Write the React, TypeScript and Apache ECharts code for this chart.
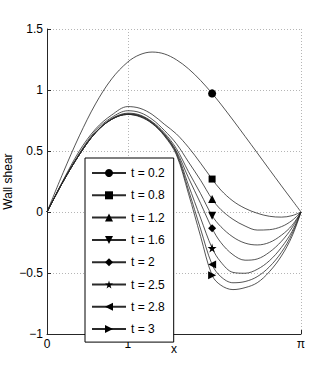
import React, { useEffect, useRef } from "react";
import * as echarts from "echarts";

const X = [0, 0.2, 0.4, 0.6, 0.8, 1.0, 1.15, 1.3, 1.45, 1.6, 1.75, 1.9, 2.042, 2.15, 2.3, 2.45, 2.6, 2.75, 2.9, 3.03, 3.1416];
const MARK_INDEX = 12;

const names = ["t = 0.2", "t = 0.8", "t = 1.2", "t = 1.6", "t = 2", "t = 2.5", "t = 2.8", "t = 3"];

const t02 = [0, 0.323, 0.624, 0.886, 1.091, 1.23, 1.29, 1.311, 1.296, 1.248, 1.174, 1.078, 0.972, 0.884, 0.754, 0.62, 0.485, 0.349, 0.214, 0.099, 0];
const t08 = [0, 0.26, 0.5, 0.68, 0.795, 0.864, 0.85, 0.8, 0.72, 0.64, 0.53, 0.4, 0.27, 0.18, 0.09, 0.03, -0.01, -0.035, -0.042, -0.03, 0];
const t12 = [0, 0.255, 0.48, 0.665, 0.775, 0.83, 0.815, 0.76, 0.67, 0.56, 0.41, 0.26, 0.106, 0.02, -0.06, -0.115, -0.148, -0.145, -0.12, -0.07, 0];
const t16 = [0, 0.25, 0.47, 0.65, 0.765, 0.81, 0.795, 0.74, 0.65, 0.52, 0.33, 0.15, -0.03, -0.12, -0.205, -0.255, -0.27, -0.25, -0.19, -0.11, 0];
const t20 = [0, 0.25, 0.47, 0.65, 0.76, 0.805, 0.79, 0.735, 0.64, 0.5, 0.28, 0.07, -0.134, -0.25, -0.35, -0.395, -0.385, -0.33, -0.24, -0.13, 0];
const t25 = [0, 0.25, 0.47, 0.65, 0.76, 0.8, 0.785, 0.73, 0.635, 0.49, 0.22, -0.05, -0.295, -0.41, -0.495, -0.502, -0.47, -0.4, -0.29, -0.16, 0];
const t28 = [0, 0.25, 0.47, 0.65, 0.76, 0.8, 0.785, 0.728, 0.63, 0.48, 0.18, -0.14, -0.431, -0.53, -0.58, -0.57, -0.53, -0.45, -0.33, -0.18, 0];
const t30 = [0, 0.25, 0.47, 0.65, 0.76, 0.8, 0.78, 0.725, 0.625, 0.47, 0.15, -0.2, -0.519, -0.6, -0.636, -0.62, -0.58, -0.49, -0.36, -0.2, 0];

const values = [t02, t08, t12, t16, t20, t25, t28, t30];

const xTicks = [0, 1, Math.PI];

const symbols = [
  "circle",
  "rect",
  "triangle",
  "path://M0,0 L10,0 L5,10 Z",
  "diamond",
  "path://M50,0 L61,35 L98,35 L68,57 L79,91 L50,70 L21,91 L32,57 L2,35 L39,35 Z",
  "path://M10,0 L10,10 L0,5 Z",
  "path://M0,0 L10,5 L0,10 Z",
];
const symbolSizes = [8, 7, 8, 8, 8, 9, 8, 8];

const FONT = "'Liberation Sans', Arial, Helvetica, sans-serif";

export default function App() {
  const ref = useRef<HTMLDivElement>(null);
  useEffect(() => {
    document.body.style.margin = "0";
    if (!ref.current) return;
    const chart = echarts.init(ref.current, null, { renderer: "svg" });
    const axisColor = "#262626";
    const series = values.map((vals, k) => ({
      name: names[k],
      type: "line",
      data: vals.map((v, i) => [X[i], v]),
      smooth: 0.35,
      symbol: symbols[k],
      showSymbol: true,
      showAllSymbol: true,
      symbolSize: (_v: any, p: any) => (p.dataIndex === MARK_INDEX ? symbolSizes[k] : 0),
      lineStyle: { color: "#2a2a2a", width: 0.8 },
      itemStyle: { color: "#000", borderWidth: 0 },
      emphasis: { disabled: true },
      z: 2,
    }));
    chart.setOption({
      animation: false,
      textStyle: { fontFamily: FONT },
      grid: { left: 47, right: 31, top: 29, bottom: 43, containLabel: false, outerBoundsMode: "none" },
      legend: {
        orient: "vertical",
        left: 85,
        top: 158,
        data: names,
        selectedMode: false,
        backgroundColor: "#fff",
        borderColor: "#000",
        borderWidth: 1,
        borderRadius: 0,
        padding: [9, 9, 7, 6],
        itemWidth: 34,
        itemHeight: 10,
        itemGap: 10.3,
        textStyle: { fontSize: 12, color: "#000", fontFamily: FONT },
        z: 10,
      },
      xAxis: {
        type: "value",
        min: 0,
        max: Math.PI,
        name: "x",
        nameLocation: "middle",
        nameGap: 9,
        nameMoveOverlap: false,
        nameTextStyle: { fontSize: 12, color: "#000", fontFamily: FONT },
        axisLine: { show: true, onZero: false, lineStyle: { color: axisColor, width: 1 } },
        axisTick: { show: true, inside: true, length: 4, customValues: xTicks, lineStyle: { color: axisColor } },
        axisLabel: {
          customValues: xTicks,
          margin: 4,
          fontSize: 12,
          color: "#000",
          fontFamily: FONT,
          formatter: (v: number) => (Math.abs(v - Math.PI) < 1e-6 ? "π" : String(Math.round(v))),
        },
        splitLine: { show: true, lineStyle: { color: "#b5b5b5", type: [1, 2], width: 1 } },
      },
      yAxis: {
        type: "value",
        min: -1,
        max: 1.5,
        interval: 0.5,
        name: "Wall shear",
        nameLocation: "middle",
        nameGap: 33,
        nameMoveOverlap: false,
        nameTextStyle: { fontSize: 12, color: "#000", fontFamily: FONT },
        axisLine: { show: true, onZero: false, lineStyle: { color: axisColor, width: 1 } },
        axisTick: { show: true, inside: true, length: 4, lineStyle: { color: axisColor } },
        axisLabel: {
          margin: 4,
          fontSize: 12,
          color: "#000",
          fontFamily: FONT,
          formatter: (v: number) => (v < 0 ? "\u2212" + String(Math.abs(v)) : String(v)),
        },
        splitLine: { show: true, lineStyle: { color: "#b5b5b5", type: [1, 2], width: 1 } },
      },
      series,
    });
    return () => chart.dispose();
  }, []);
  return <div ref={ref} style={{ width: 332, height: 377 }} />;
}
